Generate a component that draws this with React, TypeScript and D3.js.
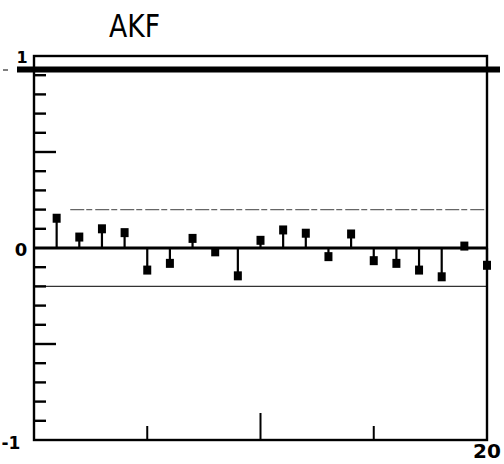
import React from "react";
import * as d3 from "d3";

const lags = [1, 2, 3, 4, 5, 6, 7, 8, 9, 10, 11, 12, 13, 14, 15, 16, 17, 18, 19, 20];
const acf = [0.155, 0.057, 0.1, 0.08, -0.115, -0.08, 0.05, -0.02, -0.145, 0.04, 0.094, 0.077, -0.045, 0.073, -0.066, -0.08, -0.115, -0.15, 0.01, -0.09];
const lag0Level = 0.93;
const confBound = 0.2;
const yMinorTicks = [-0.9, -0.8, -0.7, -0.6, -0.5, -0.4, -0.3, -0.2, -0.1, 0.1, 0.2, 0.3, 0.4, 0.5, 0.6, 0.7, 0.8, 0.9];
const xTicks = [5, 10, 15];

export default function App() {
  const W = 504, H = 464;
  const x = d3.scaleLinear().domain([0, 20]).range([34, 487]);
  const y = d3.scaleLinear().domain([-1, 1]).range([440, 56]);
  const font = "'DejaVu Sans', sans-serif";
  return (
    <svg width={W} height={H} style={{ position: "absolute", left: 0, top: 0, background: "#fff" }}>
      <rect width={W} height={H} fill="#fff" />
      <text x={109} y={37} fontFamily={font} fontSize={32} textLength={51} lengthAdjust="spacingAndGlyphs" fill="#000">AKF</text>
      {/* confidence lines */}
      <line x1={x(1.6)} x2={x(20)} y1={y(confBound)} y2={y(confBound)} stroke="#666" strokeWidth={1.3} strokeDasharray="14 2 6 3" />
      <line x1={x(0)} x2={x(20)} y1={y(-confBound)} y2={y(-confBound)} stroke="#333" strokeWidth={1.3} />
      {/* frame */}
      <rect x={x(0)} y={y(1)} width={x(20) - x(0)} height={y(-1) - y(1)} fill="none" stroke="#000" strokeWidth={2.4} />
      {/* lag0 thick line */}
      <line x1={17} x2={500} y1={y(lag0Level)} y2={y(lag0Level)} stroke="#000" strokeWidth={6} />
      {/* zero line */}
      <line x1={x(0)} x2={x(20)} y1={y(0)} y2={y(0)} stroke="#000" strokeWidth={3} />
      {/* y ticks */}
      {yMinorTicks.map((t) => (
        <line key={t} x1={x(0)} x2={x(0) + (Math.abs(Math.abs(t) - 0.5) < 1e-6 ? 22 : 12)} y1={y(t)} y2={y(t)} stroke="#000" strokeWidth={2.4} />
      ))}
      {/* x ticks */}
      {xTicks.map((t) => (
        <line key={t} x1={x(t)} x2={x(t)} y1={y(-1)} y2={y(-1) - (t === 10 ? 27 : 14)} stroke="#000" strokeWidth={2} />
      ))}
      {/* stems */}
      {lags.map((l, i) => (
        <g key={l}>
          <line x1={x(l)} x2={x(l)} y1={y(0)} y2={y(acf[i])} stroke="#000" strokeWidth={2.2} />
          <rect x={x(l) - 4} y={y(acf[i]) - 4.5} width={8} height={9} fill="#000" />
        </g>
      ))}
      {/* labels */}
      <text x={22} y={63} fontFamily={font} fontSize={16} fontWeight="bold" textAnchor="middle" fill="#000">1</text>
      <line x1={3} x2={8} y1={70} y2={70} stroke="#000" strokeWidth={1} />
      <text x={21} y={256} fontFamily={font} fontSize={18} fontWeight="bold" textAnchor="middle" fill="#000">0</text>
      <text x={11} y={449} fontFamily={font} fontSize={17} fontWeight="bold" textAnchor="middle" fill="#000">-1</text>
      <text x={487} y={458} fontFamily={font} fontSize={20} fontWeight="bold" textAnchor="middle" fill="#000">20</text>
    </svg>
  );
}
